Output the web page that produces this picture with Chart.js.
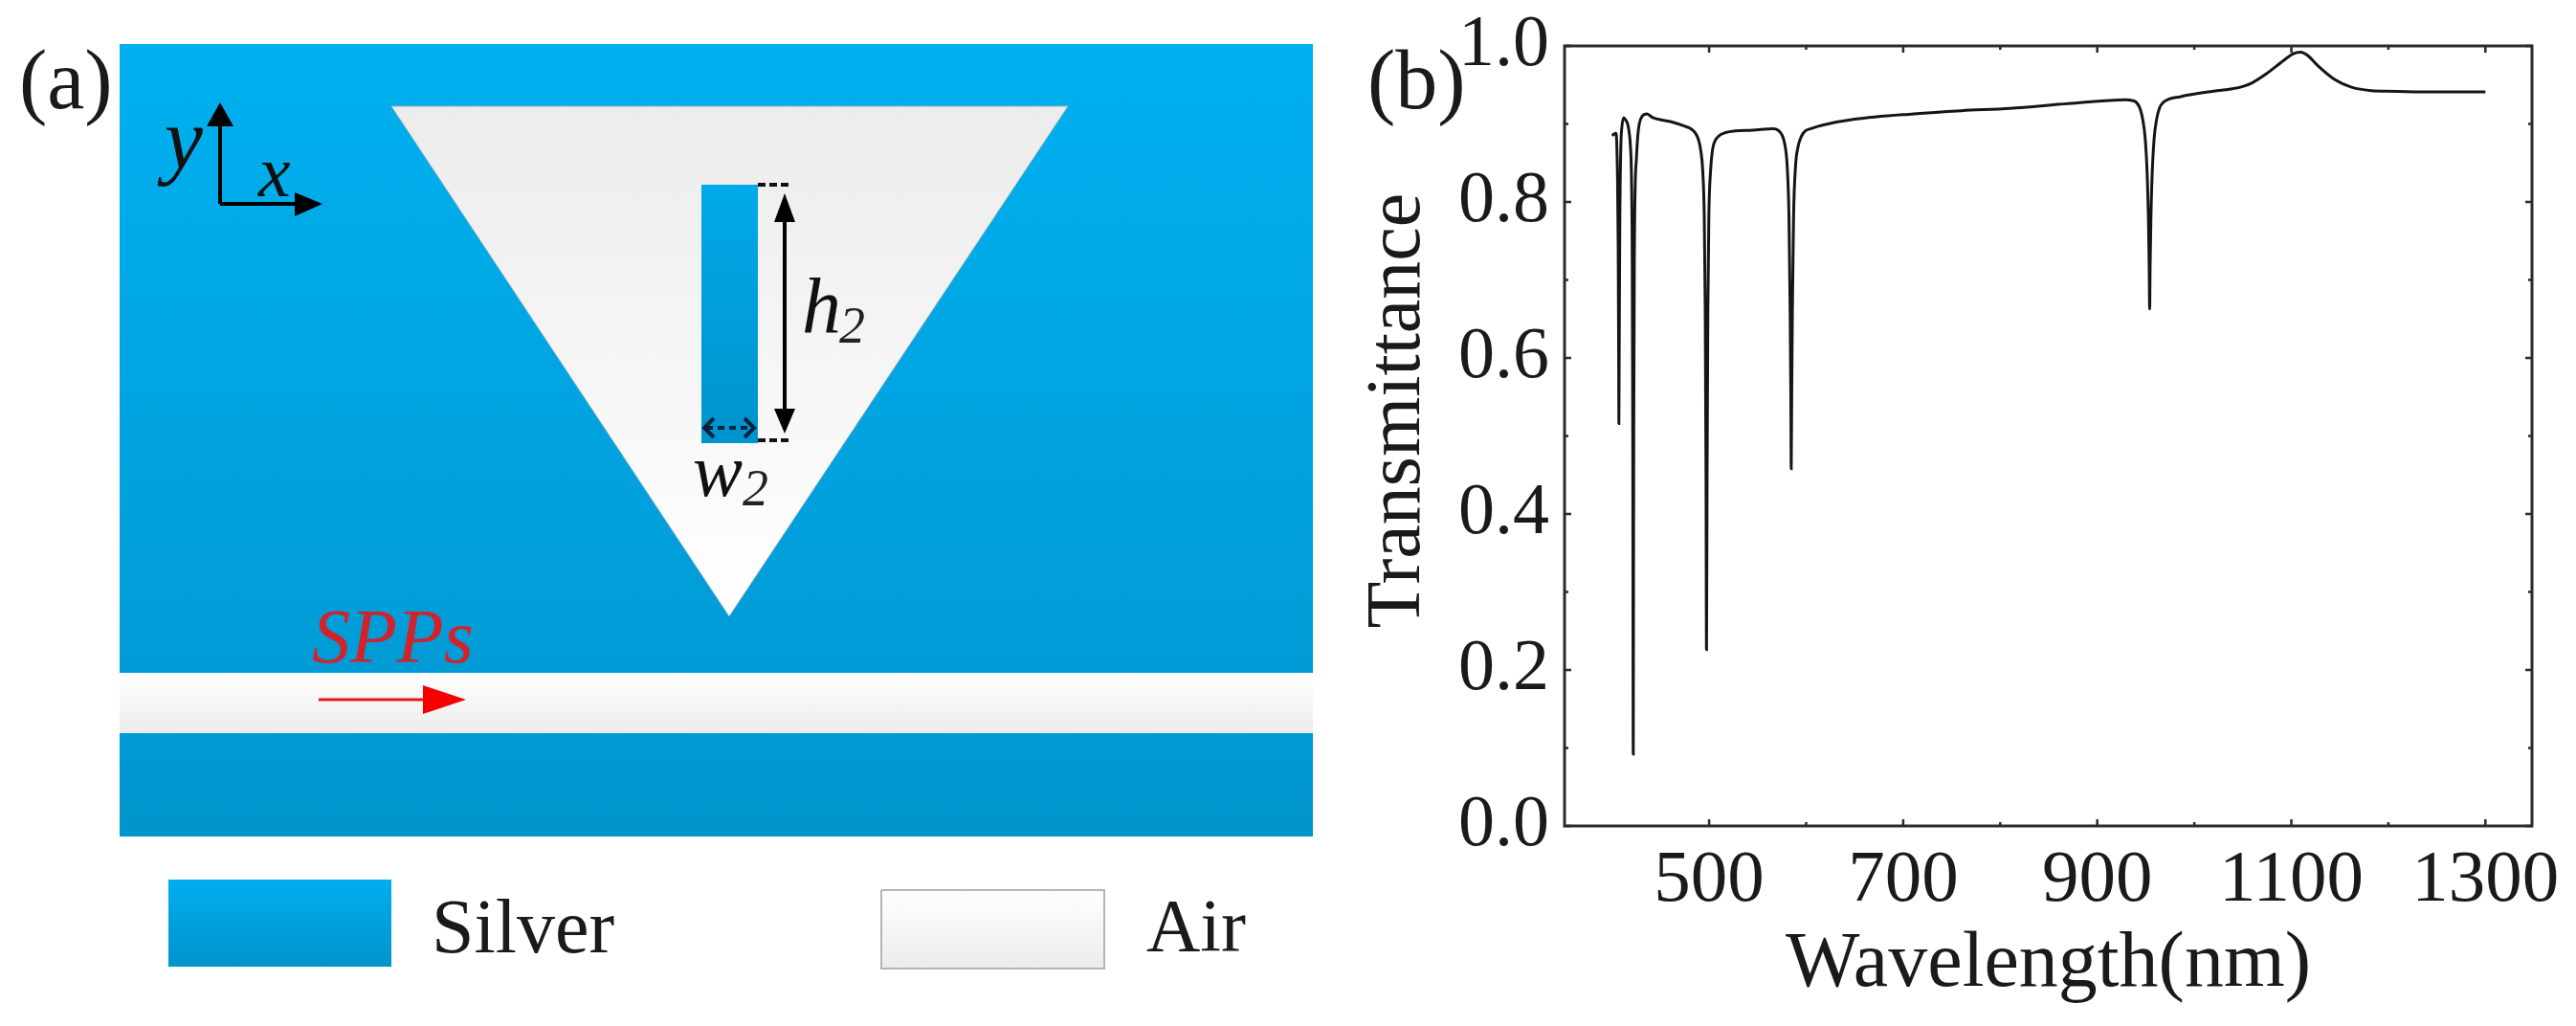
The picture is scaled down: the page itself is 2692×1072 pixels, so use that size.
<!DOCTYPE html>
<html><head><meta charset="utf-8">
<script src="https://cdn.jsdelivr.net/npm/chart.js@4"></script>
<style>
html,body{margin:0;padding:0;background:#fff;width:2692px;height:1072px;overflow:hidden}
canvas{position:absolute;top:0;filter:blur(0.6px)}
#a{left:0}#b{left:1400px}
</style></head><body>
<canvas id="a" width="1400" height="1072"></canvas>
<canvas id="b" width="1292" height="1072"></canvas>
<script>
// ---- panel (b): transmittance spectrum ----
const wavelength = [400,402,404,404.8,405.6,406.3,406.8,407,407.3,408,409,410,412,414,416,417.5,419,420,420.8,421.3,421.8,422.3,422.9,423.8,425,426.5,428,431,436,442,460,475,481,486,489,491.5,493.4,495,496,496.8,497.3,497.9,498.7,499.7,501.5,503.5,506,510.5,517,527,545,566,571,575,578,580.5,582.3,583.5,584.2,584.6,585.1,585.8,587,589,591.5,595,599,605,619,650,711,760,810,870,929.6,936,940,944,947,949.5,951.3,952.7,953.5,954,954.5,955.3,956.7,958.5,961,964,968.4,986,1020,1039,1050,1060,1074,1091.7,1102,1109.6,1116.6,1127,1144.6,1162,1180,1197.6,1233,1300];
const transmittance = [.885,.887,.888,.875,.83,.74,.6,.516,.6,.78,.87,.895,.908,.905,.90,.89,.87,.83,.72,.50,.092,.50,.72,.82,.854,.885,.90,.91,.913,.908,.903,.897,.894,.888,.88,.865,.84,.78,.66,.45,.226,.45,.66,.78,.84,.867,.878,.885,.889,.891,.892,.894,.892,.886,.874,.845,.78,.66,.55,.458,.55,.66,.78,.845,.87,.884,.891,.894,.899,.906,.913,.917,.92,.926,.931,.930,.928,.92,.905,.88,.84,.78,.72,.663,.72,.78,.84,.88,.905,.92,.928,.935,.942,.945,.948,.953,.964,.981,.990,.992,.988,.975,.957,.947,.943,.942,.941,.941];
const xMajorTicks = [500,700,900,1100,1300];
const xMinorTicks = [600,800,1000,1200];
const yMajorTicks = [0,0.2,0.4,0.6,0.8,1.0];
const yMinorTicks = [0.1,0.3,0.5,0.7,0.9];
const xTitle = 'Wavelength(nm)';
const yTitle = 'Transmittance';

// ---- panel (a): schematic shapes, in picture units ----
const upperSilver = [[125,46],[1372,46],[1372,703],[125,703]];
const lowerSilver = [[125,766],[1372,766],[1372,874],[125,874]];
const channel = [[125,703],[1372,703],[1372,766],[125,766]];
const cavity = [[409,111],[1116,111],[762,644]];
const stub = [[733,193],[792,193],[792,463],[733,463]];
const silverKey = [[176,919],[409,919],[409,1010],[176,1010]];
const airKey = [[921,930],[1154,930],[1154,1012],[921,1012]];
const yArrowShaft = [[230,213],[230,128]];
const yArrowHead = [[230,107],[244,132],[216,132]];
const xArrowShaft = [[230,213],[312,213]];
const xArrowHead = [[337,213],[308,201],[308,226]];
const hArrowShaft = [[820,225],[820,432]];
const hArrowHeadTop = [[820,202],[831,232],[809,232]];
const hArrowHeadBottom = [[820,453],[831,427],[809,427]];
const hDashTop = [[792,193],[827,193]];
const hDashBottom = [[792,460],[827,460]];
const wDash = [[738,447],[786,447]];
const wChevronLeft = [[746,437],[736,447],[746,457]];
const wChevronRight = [[778,437],[788,447],[778,457]];
const sppShaft = [[333,731],[445,731]];
const sppHead = [[487,731],[442,716],[442,746]];
const schematicLabels = [
  {t:'(a)',x:20,y:113,f:'88px',c:'#1a1a1a'},
  {t:'y',x:172,y:176,f:'italic 90px',c:'#111'},
  {t:'x',x:270,y:205,f:'italic 76px',c:'#111'},
  {t:'h',x:838,y:347,f:'italic 82px',c:'#111'},
  {t:'2',x:877,y:358,f:'italic 54px',c:'#222'},
  {t:'w',x:724,y:518,f:'italic 78px',c:'#111'},
  {t:'2',x:776,y:528,f:'italic 54px',c:'#222'},
  {t:'SPPs',x:326,y:692,f:'italic 80px',c:'#d2232a'},
  {t:'Silver',x:451,y:995,f:'80px',c:'#1a1a1a'},
  {t:'Air',x:1198,y:993,f:'78px',c:'#1a1a1a'}
];
const panelBLabel = {t:'(b)',x:29,y:113,f:'88px',c:'#1a1a1a'};

const serif = '"Liberation Serif","Times New Roman",serif';
const textPlugin = labels => ({id:'texts',afterDraw(c){
  const g=c.ctx; g.save(); g.textBaseline='alphabetic'; g.textAlign='left';
  labels.forEach(l=>{g.font=l.f+' '+serif; g.fillStyle=l.c; g.fillText(l.t,l.x,l.y);});
  g.restore();
}});

// panel (a)
const actx = document.getElementById('a').getContext('2d');
const vgrad = (y0,y1,c0,c1)=>{const g=actx.createLinearGradient(0,y0,0,y1);g.addColorStop(0,c0);g.addColorStop(1,c1);return g;};
const pts = a=>a.map(p=>({x:p[0],y:p[1]}));
const poly = (a,fill,line,w)=>({data:pts(a.concat([a[0]])),showLine:true,fill:'shape',backgroundColor:fill,borderColor:line||'rgba(0,0,0,0)',borderWidth:w||0,pointRadius:0,tension:0});
const seg = (a,col,w,dash)=>({data:pts(a),showLine:true,fill:false,borderColor:col,borderWidth:w,borderDash:dash||[],pointRadius:0,tension:0});
const schematic = [
  poly(upperSilver,vgrad(46,703,'#00b0f0','#009bd6')),
  poly(channel,vgrad(703,766,'#ffffff','#ececec')),
  poly(lowerSilver,vgrad(766,874,'#009ad4','#0094cc')),
  poly(cavity,vgrad(111,644,'#ececec','#ffffff'),'#9fb4bd',1),
  poly(stub,vgrad(193,463,'#00a9e8','#0093cb')),
  poly(silverKey,vgrad(919,1010,'#00aeee','#0093cb')),
  poly(airKey,vgrad(930,1012,'#ffffff','#ececec'),'#b5b5b5',2),
  seg(yArrowShaft,'#000',4),poly(yArrowHead,'#000'),
  seg(xArrowShaft,'#000',4),poly(xArrowHead,'#000'),
  seg(hArrowShaft,'#000',4),poly(hArrowHeadTop,'#000'),poly(hArrowHeadBottom,'#000'),
  seg(hDashTop,'#111',4,[8,4]),seg(hDashBottom,'#111',4,[8,4]),
  seg(wDash,'#06233a',4,[7,5]),seg(wChevronLeft,'#06233a',4),seg(wChevronRight,'#06233a',4),
  seg(sppShaft,'#f01010',3),poly(sppHead,'#f80000')
];
schematic.forEach((d,i)=>{d.order=schematic.length-i;d.clip=false;});
new Chart(actx,{type:'scatter',data:{datasets:schematic},plugins:[textPlugin(schematicLabels)],options:{
  responsive:false,animation:false,devicePixelRatio:1,
  layout:{padding:0},
  plugins:{legend:{display:false},tooltip:{enabled:false}},
  scales:{x:{type:'linear',display:false,min:0,max:1400},y:{type:'linear',display:false,min:0,max:1072,reverse:true}}
}});

// panel (b)
const frameCol='#2b2b2b';
const framePlugin={id:'frame',afterDraw(c){
  const g=c.ctx,a=c.chartArea,X=c.scales.x,Y=c.scales.y;
  g.save();g.strokeStyle=frameCol;g.lineWidth=3;
  g.strokeRect(a.left,a.top,a.right-a.left,a.bottom-a.top);
  g.lineWidth=2.5;
  const vt=(v,l)=>{const p=X.getPixelForValue(v);g.beginPath();g.moveTo(p,a.top);g.lineTo(p,a.top+l);g.moveTo(p,a.bottom);g.lineTo(p,a.bottom-l);g.stroke();};
  const ht=(v,l)=>{const p=Y.getPixelForValue(v);g.beginPath();g.moveTo(a.left,p);g.lineTo(a.left+l,p);g.moveTo(a.right,p);g.lineTo(a.right-l,p);g.stroke();};
  xMajorTicks.forEach(v=>vt(v,7));xMinorTicks.forEach(v=>vt(v,4));
  yMajorTicks.forEach(v=>ht(v,7));yMinorTicks.forEach(v=>ht(v,4));
  // vertical axis title, placed where the reference has it
  g.save();g.translate(62,429);g.rotate(-Math.PI/2);g.textAlign='center';g.textBaseline='middle';
  g.font='80px '+serif;g.fillStyle='#1a1a1a';g.fillText(yTitle,0,0);g.restore();
  g.restore();
}};
new Chart(document.getElementById('b'),{type:'scatter',
  data:{datasets:[{data:wavelength.map((x,i)=>({x,y:transmittance[i]})),showLine:true,fill:false,borderColor:'#151515',borderWidth:3,pointRadius:0,cubicInterpolationMode:'monotone',clip:false}]},
  plugins:[framePlugin,textPlugin([panelBLabel])],
  options:{responsive:false,animation:false,devicePixelRatio:1,
    layout:{padding:{top:48,right:46,left:0,bottom:0}},
    plugins:{legend:{display:false},tooltip:{enabled:false}},
    scales:{
      x:{type:'linear',min:351,max:1348,
        afterBuildTicks:s=>{s.ticks=xMajorTicks.map(v=>({value:v}));},
        afterFit:s=>{s.height=209;s.paddingLeft=0;s.paddingRight=0;},
        grid:{display:false},border:{display:false},
        ticks:{autoSkip:false,maxRotation:0,padding:4,color:'#1a1a1a',font:{family:serif,size:77},callback:v=>String(v)},
        title:{display:true,text:xTitle,color:'#1a1a1a',font:{family:serif,size:82},padding:{top:0,bottom:14}}},
      y:{type:'linear',min:0,max:1,
        afterBuildTicks:s=>{s.ticks=yMajorTicks.map(v=>({value:v}));},
        afterFit:s=>{s.width=235;s.paddingTop=0;s.paddingBottom=0;},
        grid:{display:false},border:{display:false},
        ticks:{autoSkip:false,padding:8,color:'#1a1a1a',font:{family:serif,size:76},callback:v=>v.toFixed(1)}}
    }}
});
</script>
</body></html>
